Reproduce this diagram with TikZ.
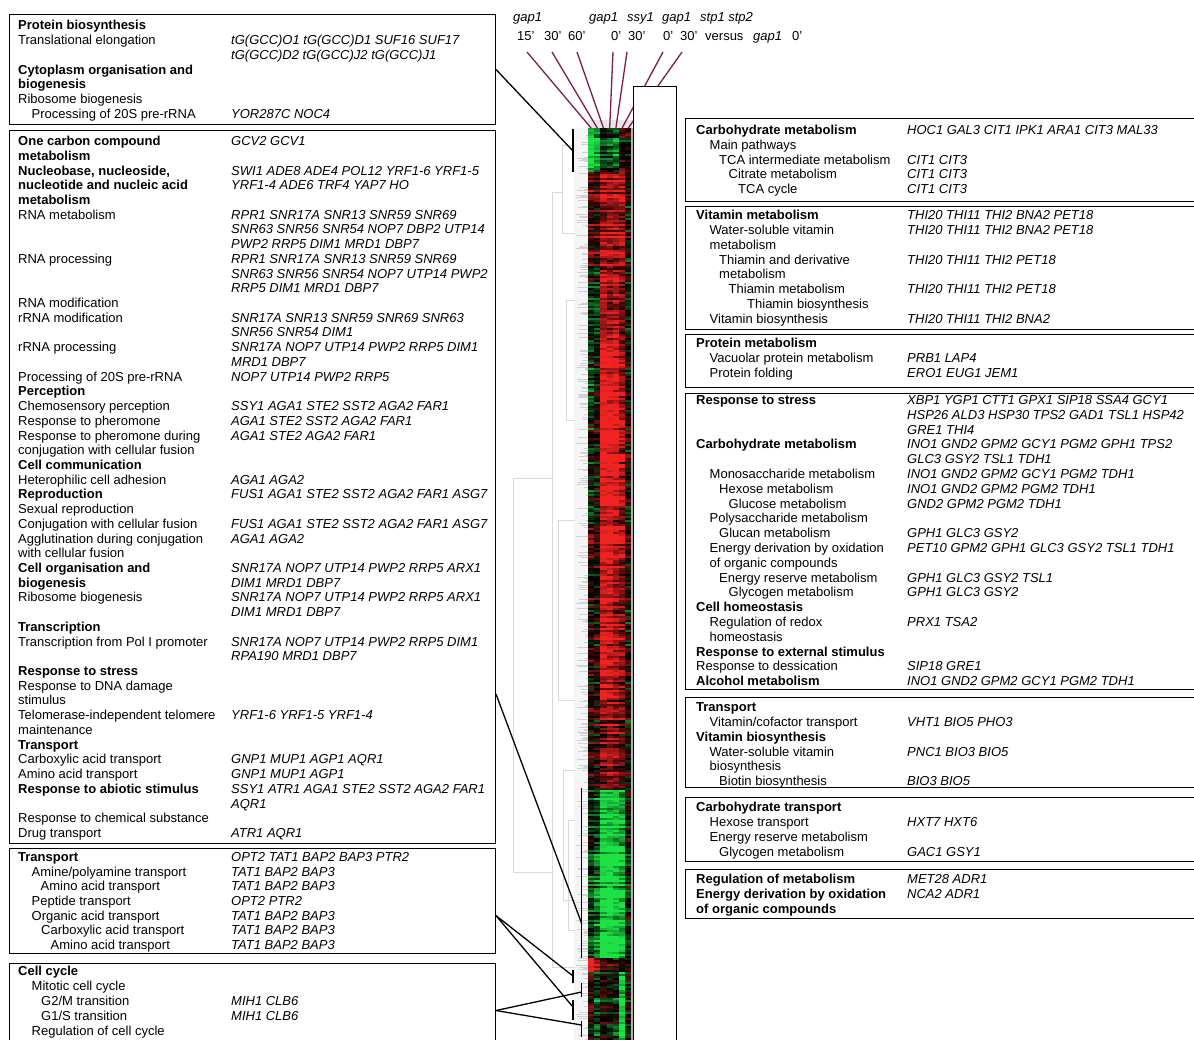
\documentclass[tikz,border=0pt]{standalone}
\usepackage{fontspec}
\setmainfont{Liberation Sans}
\usetikzlibrary{calc}
\definecolor{hmred}{RGB}{240,35,35}
\definecolor{hmgreen}{RGB}{30,225,70}
\definecolor{hmpurple}{RGB}{122,30,80}
\newcounter{tn}
\newcommand\TN[4]{\stepcounter{tn}\node[#1] (t\arabic{tn}) at (#2,{#3+4.6}) {#4};}
\tikzset{
  lab/.style={anchor=base west, inner sep=0pt, font=\fontsize{13}{15}\selectfont},
  labb/.style={lab, font=\fontsize{13}{15}\selectfont\bfseries},
  gen/.style={lab, font=\fontsize{13}{15}\selectfont\itshape},
  lbox/.style={draw=black, line width=1pt, anchor=north west, inner sep=0pt, minimum width=486pt},
  rbox/.style={draw=black, line width=1.4pt, anchor=north west, inner sep=0pt, minimum width=520pt},
  conn/.style={draw=black, line width=1.3pt},
  brk/.style={draw=black, line width=1.7pt},
  purp/.style={draw=hmpurple, line width=1.3pt},
  dend/.style={draw=gray!30, line width=0.8pt}
}
\begin{document}
\begin{tikzpicture}[x=1pt,y=-1pt]
\useasboundingbox (0,0) rectangle (1194,1039);
\clip (0,0) rectangle (1194,1039);
\fill[white] (0,0) rectangle (1194,1039);

% ---------- dendrogram (light grey) ----------
\fill[gray!8] (574,128) rectangle (588,1040);
\pgfmathsetseed{777}
\foreach \hk in {1,...,320}{
  \pgfmathsetmacro\ddy{128+911*rnd}
  \pgfmathsetmacro\ddx{576+11*rnd}
  \draw[gray!35, line width=0.35pt] (\ddx,\ddy) -- (588,\ddy);
}
\draw[dend] (575,145) -- (562,145) -- (562,233) -- (575,233);
\draw[dend] (562,192) -- (552,192) -- (552,967) -- (575,967);
\draw[dend] (552,478) -- (513,478) -- (513,872) -- (552,872);
\draw[dend] (575,300) -- (566,300) -- (566,420) -- (575,420);
\draw[dend] (575,520) -- (558,520) -- (558,700) -- (575,700);
\draw[dend] (575,770) -- (563,770) -- (563,900) -- (575,900);
\draw[dend] (575,820) -- (568,820) -- (568,930) -- (575,930);
\fill[gray!20] (588,120) rectangle (632,128);

% ---------- heat map ----------
\pgfmathsetseed{4242}
\foreach \ya/\yz/\ma/\mb/\mc/\md/\me/\mf/\mg in {
  128/172/-0.9/-0.7/-0.2/-0.3/-0.4/0.1/0,
  172/270/0.3/0.2/0.6/0.6/0.6/0.6/0.05,
  270/340/-0.1/-0.1/0.7/0.6/0.7/0.5/0,
  340/520/-0.15/0/0.95/0.95/0.9/0.6/0.05,
  520/700/0.1/0.1/0.8/0.8/0.6/0.5/0.05,
  700/790/0.1/0.1/0.4/0.5/0.4/0.3/0,
  790/958/-0.2/-0.4/-0.9/-0.9/-0.85/-0.7/-0.05,
  958/972/0.9/0.6/0.2/0.1/0/0/0,
  972/1040/0.1/-0.3/0/-0.1/-0.2/-0.85/-0.05}{
  \pgfmathtruncatemacro\hn{(\yz-\ya)/2-1}
  \foreach \hk in {0,...,\hn}{
    \pgfmathsetmacro\hy{\ya+2*\hk}
    \pgfmathsetmacro\hro{0.35*rand}
    \foreach \hm [count=\hc] in {\ma,\mb,\mc,\md,\me,\mf,\mg}{
      \pgfmathsetmacro\hv{max(-1,min(1,\hm+\hro+0.22*rand))}
      \pgfmathtruncatemacro\hp{min(100,abs(\hv)*115)}
      \ifdim\hv pt<0pt \def\hcol{hmgreen}\else\def\hcol{hmred}\fi
      \fill[\hcol!\hp!black] ({588+(\hc-1)*6.2},\hy) rectangle ++(6.3,2.1);
    }
  }
}
\fill[gray!60] (631.4,128) rectangle (633,1040);

% ---------- column labels and purple lines ----------
\TN{gen}{513}{17}{gap1}
\TN{gen}{589}{17}{gap1}
\TN{gen}{627}{17}{ssy1}
\TN{gen}{662}{17}{gap1}
\TN{gen}{700}{17}{stp1 stp2}
\TN{lab}{517}{36}{15'}
\TN{lab}{544}{36}{30'}
\TN{lab}{568}{36}{60'}
\TN{lab}{611}{36}{0'}
\TN{lab}{628}{36}{30'}
\TN{lab}{663}{36}{0'}
\TN{lab}{680}{36}{30'}
\TN{lab}{705}{36}{versus}
\TN{gen}{753}{36}{gap1}
\TN{lab}{792}{36}{0'}

\coordinate (p1) at (527,52);  \coordinate (h1) at (591.1,128);
\coordinate (p2) at (552,52);  \coordinate (h2) at (597.3,128);
\coordinate (p3) at (577,52);  \coordinate (h3) at (603.5,128);
\coordinate (p4) at (613,52);  \coordinate (h4) at (609.7,128);
\coordinate (p5) at (627,52);  \coordinate (h5) at (615.9,128);
\coordinate (p6) at (663,52);  \coordinate (h6) at (622.1,128);
\coordinate (p7) at (682,52);  \coordinate (h7) at (628.3,128);
\foreach \i in {1,...,7}{\draw[purp] (p\i) -- (h\i);}

% white column box right of the heat map
\node[draw=black, fill=white, line width=1pt, anchor=north west, inner sep=0pt,
      minimum width=43pt, minimum height=960pt] (wbox) at (633,86) {};

% ---------- boxes ----------
\node[lbox, minimum height=110pt] (boxA) at (9,14) {};
\node[lbox, minimum height=713pt] (boxB) at (9,130) {};
\node[lbox, minimum height=105pt] (boxC) at (9,848) {};
\node[lbox, minimum height=95pt]  (boxD) at (9,963) {};
\node[rbox, minimum height=83pt]  (r1) at (685,118) {};
\node[rbox, minimum height=123pt] (r2) at (685,206) {};
\node[rbox, minimum height=53pt]  (r3) at (685,334) {};
\node[rbox, minimum height=296pt] (r4) at (685,393) {};
\node[rbox, minimum height=90pt]  (r5) at (685,697) {};
\node[rbox, minimum height=64pt]  (r6) at (685,797) {};
\node[rbox, minimum height=49pt]  (r7) at (685,869) {};

% ---------- cluster brackets and connectors ----------
\coordinate (bAt) at (573,129);   \coordinate (bAb) at (573,172);   \coordinate (bA) at (573,151);
\coordinate (bBt) at (581.5,788); \coordinate (bBb) at (581.5,958); \coordinate (bB) at (581.5,923);
\coordinate (c1t) at (573,970);   \coordinate (c1b) at (573,983);   \coordinate (c1) at (573,976);
\coordinate (c2t) at (573,1000);  \coordinate (c2b) at (573,1020);  \coordinate (c2) at (573,1007);
\coordinate (d1t) at (581.5,983); \coordinate (d1b) at (581.5,997); \coordinate (d1) at (581.5,992);
\coordinate (d2t) at (581.5,1021);\coordinate (d2b) at (581.5,1037);\coordinate (d2) at (581.5,1025);
\draw[brk] (bAt) -- (bAb);
\draw[brk] (bBt) -- (bBb);
\draw[brk] (c1t) -- (c1b);
\draw[brk] (c2t) -- (c2b);
\draw[brk] (d1t) -- (d1b);
\draw[brk] (d2t) -- (d2b);
\draw[conn] (boxA.east) -- (bA);
\draw[conn] ($(boxB.north east)!0.79!(boxB.south east)$) -- (bB);
\draw[conn] ($(boxC.north east)!0.638!(boxC.south east)$) -- (c1);
\draw[conn] ($(boxC.north east)!0.638!(boxC.south east)$) -- (c2);
\draw[conn] ($(boxD.north east)!0.495!(boxD.south east)$) -- (d1);
\draw[conn] ($(boxD.north east)!0.495!(boxD.south east)$) -- (d2);

% ---------- Box A ----------
\TN{labb}{18}{25}{Protein biosynthesis}
\TN{lab}{18}{25+14.8}{Translational elongation}
\TN{gen}{231}{25+14.8}{tG(GCC)O1 tG(GCC)D1 SUF16 SUF17}
\TN{gen}{231}{25+14.8*2}{tG(GCC)D2 tG(GCC)J2 tG(GCC)J1}
\TN{labb}{18}{25+14.8*3}{Cytoplasm organisation and}
\TN{labb}{18}{25+14.8*4}{biogenesis}
\TN{lab}{18}{25+14.8*5}{Ribosome biogenesis}
\TN{lab}{31.5}{25+14.8*6}{Processing of 20S pre-rRNA}
\TN{gen}{231}{25+14.8*6}{YOR287C NOC4}

% ---------- Box B ----------
\TN{labb}{18}{141}{One carbon compound}
\TN{gen}{231}{141}{GCV2 GCV1}
\TN{labb}{18}{141+14.72}{metabolism}
\TN{labb}{18}{141+14.72*2}{Nucleobase, nucleoside,}
\TN{gen}{231}{141+14.72*2}{SWI1 ADE8 ADE4 POL12 YRF1-6 YRF1-5}
\TN{labb}{18}{141+14.72*3}{nucleotide and nucleic acid}
\TN{gen}{231}{141+14.72*3}{YRF1-4 ADE6 TRF4 YAP7 HO}
\TN{labb}{18}{141+14.72*4}{metabolism}
\TN{lab}{18}{141+14.72*5}{RNA metabolism}
\TN{gen}{231}{141+14.72*5}{RPR1 SNR17A SNR13 SNR59 SNR69}
\TN{gen}{231}{141+14.72*6}{SNR63 SNR56 SNR54 NOP7 DBP2 UTP14}
\TN{gen}{231}{141+14.72*7}{PWP2 RRP5 DIM1 MRD1 DBP7}
\TN{lab}{18}{141+14.72*8}{RNA processing}
\TN{gen}{231}{141+14.72*8}{RPR1 SNR17A SNR13 SNR59 SNR69}
\TN{gen}{231}{141+14.72*9}{SNR63 SNR56 SNR54 NOP7 UTP14 PWP2}
\TN{gen}{231}{141+14.72*10}{RRP5 DIM1 MRD1 DBP7}
\TN{lab}{18}{141+14.72*11}{RNA modification}
\TN{lab}{18}{141+14.72*12}{rRNA modification}
\TN{gen}{231}{141+14.72*12}{SNR17A SNR13 SNR59 SNR69 SNR63}
\TN{gen}{231}{141+14.72*13}{SNR56 SNR54 DIM1}
\TN{lab}{18}{141+14.72*14}{rRNA processing}
\TN{gen}{231}{141+14.72*14}{SNR17A NOP7 UTP14 PWP2 RRP5 DIM1}
\TN{gen}{231}{141+14.72*15}{MRD1 DBP7}
\TN{lab}{18}{141+14.72*16}{Processing of 20S pre-rRNA}
\TN{gen}{231}{141+14.72*16}{NOP7 UTP14 PWP2 RRP5}
\TN{labb}{18}{141+14.72*17}{Perception}
\TN{lab}{18}{141+14.72*18}{Chemosensory perception}
\TN{gen}{231}{141+14.72*18}{SSY1 AGA1 STE2 SST2 AGA2 FAR1}
\TN{lab}{18}{141+14.72*19}{Response to pheromone}
\TN{gen}{231}{141+14.72*19}{AGA1 STE2 SST2 AGA2 FAR1}
\TN{lab}{18}{141+14.72*20}{Response to pheromone during}
\TN{gen}{231}{141+14.72*20}{AGA1 STE2 AGA2 FAR1}
\TN{lab}{18}{141+14.72*21}{conjugation with cellular fusion}
\TN{labb}{18}{141+14.72*22}{Cell communication}
\TN{lab}{18}{141+14.72*23}{Heterophilic cell adhesion}
\TN{gen}{231}{141+14.72*23}{AGA1 AGA2}
\TN{labb}{18}{141+14.72*24}{Reproduction}
\TN{gen}{231}{141+14.72*24}{FUS1 AGA1 STE2 SST2 AGA2 FAR1 ASG7}
\TN{lab}{18}{141+14.72*25}{Sexual reproduction}
\TN{lab}{18}{141+14.72*26}{Conjugation with cellular fusion}
\TN{gen}{231}{141+14.72*26}{FUS1 AGA1 STE2 SST2 AGA2 FAR1 ASG7}
\TN{lab}{18}{141+14.72*27}{Agglutination during conjugation}
\TN{gen}{231}{141+14.72*27}{AGA1 AGA2}
\TN{lab}{18}{141+14.72*28}{with cellular fusion}
\TN{labb}{18}{141+14.72*29}{Cell organisation and}
\TN{gen}{231}{141+14.72*29}{SNR17A NOP7 UTP14 PWP2 RRP5 ARX1}
\TN{labb}{18}{141+14.72*30}{biogenesis}
\TN{gen}{231}{141+14.72*30}{DIM1 MRD1 DBP7}
\TN{lab}{18}{141+14.72*31}{Ribosome biogenesis}
\TN{gen}{231}{141+14.72*31}{SNR17A NOP7 UTP14 PWP2 RRP5 ARX1}
\TN{gen}{231}{141+14.72*32}{DIM1 MRD1 DBP7}
\TN{labb}{18}{141+14.72*33}{Transcription}
\TN{lab}{18}{141+14.72*34}{Transcription from Pol I promoter}
\TN{gen}{231}{141+14.72*34}{SNR17A NOP7 UTP14 PWP2 RRP5 DIM1}
\TN{gen}{231}{141+14.72*35}{RPA190 MRD1 DBP7}
\TN{labb}{18}{141+14.72*36}{Response to stress}
\TN{lab}{18}{141+14.72*37}{Response to DNA damage}
\TN{lab}{18}{141+14.72*38}{stimulus}
\TN{lab}{18}{141+14.72*39}{Telomerase-independent telomere}
\TN{gen}{231}{141+14.72*39}{YRF1-6 YRF1-5 YRF1-4}
\TN{lab}{18}{141+14.72*40}{maintenance}
\TN{labb}{18}{141+14.72*41}{Transport}
\TN{lab}{18}{141+14.72*42}{Carboxylic acid transport}
\TN{gen}{231}{141+14.72*42}{GNP1 MUP1 AGP1 AQR1}
\TN{lab}{18}{141+14.72*43}{Amino acid transport}
\TN{gen}{231}{141+14.72*43}{GNP1 MUP1 AGP1}
\TN{labb}{18}{141+14.72*44}{Response to abiotic stimulus}
\TN{gen}{231}{141+14.72*44}{SSY1 ATR1 AGA1 STE2 SST2 AGA2 FAR1}
\TN{gen}{231}{141+14.72*45}{AQR1}
\TN{lab}{18}{141+14.72*46}{Response to chemical substance}
\TN{lab}{18}{141+14.72*47}{Drug transport}
\TN{gen}{231}{141+14.72*47}{ATR1 AQR1}

% ---------- Box C ----------
\TN{labb}{18}{857}{Transport}
\TN{gen}{231}{857}{OPT2 TAT1 BAP2 BAP3 PTR2}
\TN{lab}{31.5}{857+14.65}{Amine/polyamine transport}
\TN{gen}{231}{857+14.65}{TAT1 BAP2 BAP3}
\TN{lab}{40.5}{857+14.65*2}{Amino acid transport}
\TN{gen}{231}{857+14.65*2}{TAT1 BAP2 BAP3}
\TN{lab}{31.5}{857+14.65*3}{Peptide transport}
\TN{gen}{231}{857+14.65*3}{OPT2 PTR2}
\TN{lab}{31.5}{857+14.65*4}{Organic acid transport}
\TN{gen}{231}{857+14.65*4}{TAT1 BAP2 BAP3}
\TN{lab}{41}{857+14.65*5}{Carboxylic acid transport}
\TN{gen}{231}{857+14.65*5}{TAT1 BAP2 BAP3}
\TN{lab}{50.5}{857+14.65*6}{Amino acid transport}
\TN{gen}{231}{857+14.65*6}{TAT1 BAP2 BAP3}

% ---------- Box D ----------
\TN{labb}{18}{971}{Cell cycle}
\TN{lab}{31.5}{971+14.9}{Mitotic cell cycle}
\TN{lab}{41}{971+14.9*2}{G2/M transition}
\TN{gen}{231}{971+14.9*2}{MIH1 CLB6}
\TN{lab}{41}{971+14.9*3}{G1/S transition}
\TN{gen}{231}{971+14.9*3}{MIH1 CLB6}
\TN{lab}{31.5}{971+14.9*4}{Regulation of cell cycle}

% ---------- R1 ----------
\TN{labb}{696}{130}{Carbohydrate metabolism}
\TN{gen}{907}{130}{HOC1 GAL3 CIT1 IPK1 ARA1 CIT3 MAL33}
\TN{lab}{709.5}{130+14.75}{Main pathways}
\TN{lab}{719}{130+14.75*2}{TCA intermediate metabolism}
\TN{gen}{907}{130+14.75*2}{CIT1 CIT3}
\TN{lab}{728.5}{130+14.75*3}{Citrate metabolism}
\TN{gen}{907}{130+14.75*3}{CIT1 CIT3}
\TN{lab}{738}{130+14.75*4}{TCA cycle}
\TN{gen}{907}{130+14.75*4}{CIT1 CIT3}

% ---------- R2 ----------
\TN{labb}{696}{215}{Vitamin metabolism}
\TN{gen}{907}{215}{THI20 THI11 THI2 BNA2 PET18}
\TN{lab}{709.5}{215+14.8}{Water-soluble vitamin}
\TN{gen}{907}{215+14.8}{THI20 THI11 THI2 BNA2 PET18}
\TN{lab}{709.5}{215+14.8*2}{metabolism}
\TN{lab}{719}{215+14.8*3}{Thiamin and derivative}
\TN{gen}{907}{215+14.8*3}{THI20 THI11 THI2 PET18}
\TN{lab}{719}{215+14.8*4}{metabolism}
\TN{lab}{728.5}{215+14.8*5}{Thiamin metabolism}
\TN{gen}{907}{215+14.8*5}{THI20 THI11 THI2 PET18}
\TN{lab}{747}{215+14.8*6}{Thiamin biosynthesis}
\TN{lab}{709.5}{215+14.8*7}{Vitamin biosynthesis}
\TN{gen}{907}{215+14.8*7}{THI20 THI11 THI2 BNA2}

% ---------- R3 ----------
\TN{labb}{696}{343}{Protein metabolism}
\TN{lab}{709.5}{343+14.9}{Vacuolar protein metabolism}
\TN{gen}{907}{343+14.9}{PRB1 LAP4}
\TN{lab}{709.5}{343+14.9*2}{Protein folding}
\TN{gen}{907}{343+14.9*2}{ERO1 EUG1 JEM1}

% ---------- R4 ----------
\TN{labb}{696}{400}{Response to stress}
\TN{gen}{907}{400}{XBP1 YGP1 CTT1 GPX1 SIP18 SSA4 GCY1}
\TN{gen}{907}{400+14.79}{HSP26 ALD3 HSP30 TPS2 GAD1 TSL1 HSP42}
\TN{gen}{907}{400+14.79*2}{GRE1 THI4}
\TN{labb}{696}{400+14.79*3}{Carbohydrate metabolism}
\TN{gen}{907}{400+14.79*3}{INO1 GND2 GPM2 GCY1 PGM2 GPH1 TPS2}
\TN{gen}{907}{400+14.79*4}{GLC3 GSY2 TSL1 TDH1}
\TN{lab}{709.5}{400+14.79*5}{Monosaccharide metabolism}
\TN{gen}{907}{400+14.79*5}{INO1 GND2 GPM2 GCY1 PGM2 TDH1}
\TN{lab}{719}{400+14.79*6}{Hexose metabolism}
\TN{gen}{907}{400+14.79*6}{INO1 GND2 GPM2 PGM2 TDH1}
\TN{lab}{728.5}{400+14.79*7}{Glucose metabolism}
\TN{gen}{907}{400+14.79*7}{GND2 GPM2 PGM2 TDH1}
\TN{lab}{709.5}{400+14.79*8}{Polysaccharide metabolism}
\TN{lab}{719}{400+14.79*9}{Glucan metabolism}
\TN{gen}{907}{400+14.79*9}{GPH1 GLC3 GSY2}
\TN{lab}{709.5}{400+14.79*10}{Energy derivation by oxidation}
\TN{gen}{907}{400+14.79*10}{PET10 GPM2 GPH1 GLC3 GSY2 TSL1 TDH1}
\TN{lab}{709.5}{400+14.79*11}{of organic compounds}
\TN{lab}{719}{400+14.79*12}{Energy reserve metabolism}
\TN{gen}{907}{400+14.79*12}{GPH1 GLC3 GSY2 TSL1}
\TN{lab}{728.5}{400+14.79*13}{Glycogen metabolism}
\TN{gen}{907}{400+14.79*13}{GPH1 GLC3 GSY2}
\TN{labb}{696}{400+14.79*14}{Cell homeostasis}
\TN{lab}{709.5}{400+14.79*15}{Regulation of redox}
\TN{gen}{907}{400+14.79*15}{PRX1 TSA2}
\TN{lab}{709.5}{400+14.79*16}{homeostasis}
\TN{labb}{696}{400+14.79*17}{Response to external stimulus}
\TN{lab}{696}{400+14.79*18}{Response to dessication}
\TN{gen}{907}{400+14.79*18}{SIP18 GRE1}
\TN{labb}{696}{400+14.79*19}{Alcohol metabolism}
\TN{gen}{907}{400+14.79*19}{INO1 GND2 GPM2 GCY1 PGM2 TDH1}

% ---------- R5 ----------
\TN{labb}{696}{707}{Transport}
\TN{lab}{709.5}{707+14.8}{Vitamin/cofactor transport}
\TN{gen}{907}{707+14.8}{VHT1 BIO5 PHO3}
\TN{labb}{696}{707+14.8*2}{Vitamin biosynthesis}
\TN{lab}{709.5}{707+14.8*3}{Water-soluble vitamin}
\TN{gen}{907}{707+14.8*3}{PNC1 BIO3 BIO5}
\TN{lab}{709.5}{707+14.8*4}{biosynthesis}
\TN{lab}{719}{707+14.8*5}{Biotin biosynthesis}
\TN{gen}{907}{707+14.8*5}{BIO3 BIO5}

% ---------- R6 ----------
\TN{labb}{696}{807}{Carbohydrate transport}
\TN{lab}{709.5}{807+14.9}{Hexose transport}
\TN{gen}{907}{807+14.9}{HXT7 HXT6}
\TN{lab}{709.5}{807+14.9*2}{Energy reserve metabolism}
\TN{lab}{719}{807+14.9*3}{Glycogen metabolism}
\TN{gen}{907}{807+14.9*3}{GAC1 GSY1}

% ---------- R7 ----------
\TN{labb}{696}{879}{Regulation of metabolism}
\TN{gen}{907}{879}{MET28 ADR1}
\TN{labb}{696}{879+15}{Energy derivation by oxidation}
\TN{gen}{907}{879+15}{NCA2 ADR1}
\TN{labb}{696}{879+30}{of organic compounds}
\end{tikzpicture}
\end{document}
